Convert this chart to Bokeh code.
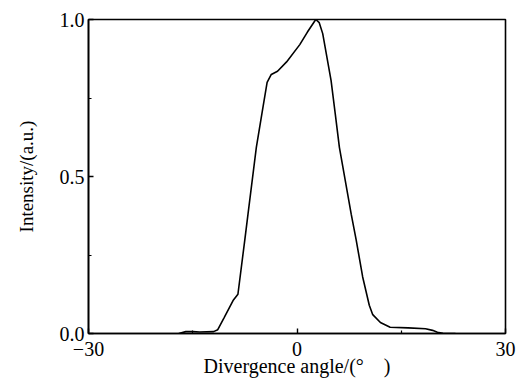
from bokeh.plotting import figure
from bokeh.models import FixedTicker, Range1d, PrintfTickFormatter
from bokeh.embed import file_html
from bokeh.resources import INLINE

angle = [-17.0, -16.0, -15.0, -14.0, -12.0, -11.4, -10.5, -9.2, -8.5, -7.5, -7.05,
         -5.85, -4.9, -4.3, -3.7, -2.8, -1.5, 0.4, 1.5, 2.7, 3.2, 3.7, 4.9, 5.5,
         6.1, 7.8, 8.5, 9.45, 10.4, 10.9, 12.0, 13.4, 16.0, 18.5, 19.5, 20.2, 21.0, 22.8]
intensity = [0.0, 0.006, 0.006, 0.005, 0.006, 0.012, 0.05, 0.105, 0.125, 0.30, 0.38,
             0.593, 0.72, 0.80, 0.825, 0.835, 0.865, 0.92, 0.96, 1.0, 0.99, 0.955, 0.806, 0.70,
             0.593, 0.38, 0.30, 0.18, 0.09, 0.06, 0.035, 0.02, 0.018, 0.015, 0.01, 0.004, 0.001, 0.0]

x_major = [-30, 0, 30]
x_minor = [-15, 15]
y_major = [0.0, 0.5, 1.0]
y_minor = [0.25, 0.75]

FONT = "Liberation Serif"

p = figure(width=519, height=379, output_backend="svg", toolbar_location=None,
           x_range=Range1d(-30, 30), y_range=Range1d(0, 1.0),
           min_border_left=88, min_border_right=14, min_border_top=19, min_border_bottom=46)
p.line(angle, intensity, line_color="black", line_width=1.6)

p.grid.visible = False
p.outline_line_color = "black"
p.outline_line_width = 1.6

for ax, maj, mnr in ((p.xaxis[0], x_major, x_minor), (p.yaxis[0], y_major, y_minor)):
    ax.ticker = FixedTicker(ticks=maj, minor_ticks=mnr)
    ax.axis_line_width = 1.6
    ax.major_tick_in = 5
    ax.major_tick_out = 0
    ax.minor_tick_in = 3
    ax.minor_tick_out = 0
    ax.major_tick_line_width = 1.4
    ax.minor_tick_line_width = 1.2
    ax.major_label_text_font = FONT
    ax.major_label_text_font_size = "20px"
    ax.major_label_text_color = "black"
    ax.axis_label_text_font = FONT
    ax.axis_label_text_font_style = "normal"
    ax.axis_label_text_color = "black"

p.yaxis.formatter = PrintfTickFormatter(format="%.1f")
p.xaxis.major_label_overrides = {-30: "\u221230", 0: "0", 30: "30"}
p.xaxis.axis_label = "Divergence angle/(°\u2003)"
p.yaxis.axis_label = "Intensity/(a.u.)"
p.xaxis.axis_label_text_font_size = "20px"
p.yaxis.axis_label_text_font_size = "19px"
p.yaxis.major_label_standoff = 4
p.xaxis.major_label_standoff = 8
p.xaxis.axis_label_standoff = -4
p.yaxis.axis_label_standoff = 20

open("out.html", "w").write(file_html(p, INLINE))
